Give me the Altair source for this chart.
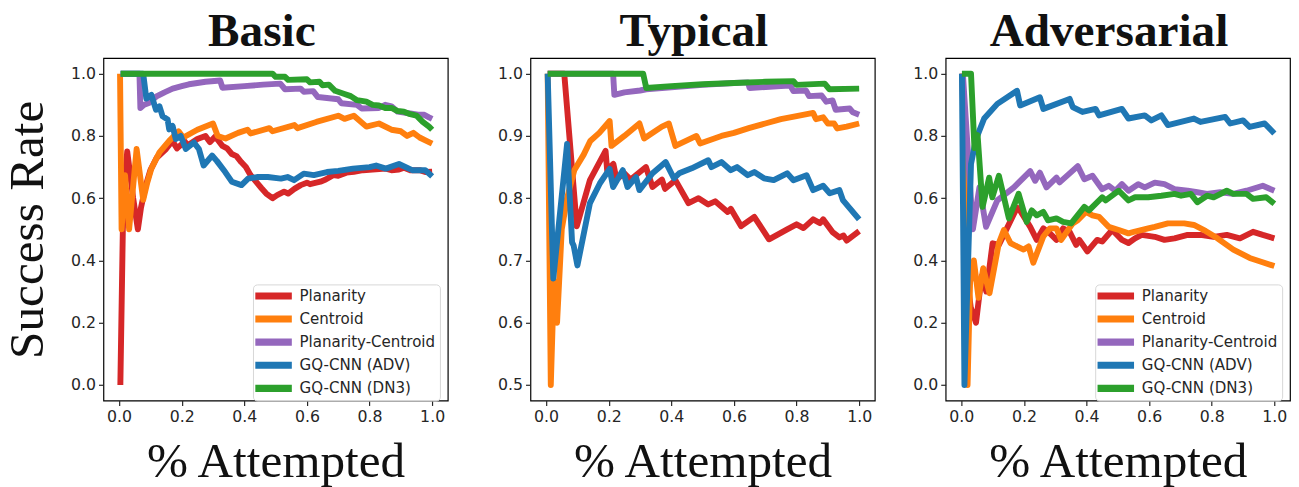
import altair as alt
import pandas as pd

names = ["Planarity", "Centroid", "Planarity-Centroid", "GQ-CNN (ADV)", "GQ-CNN (DN3)"]
colors = ["#d62728", "#ff7f0e", "#9467bd", "#1f77b4", "#2ca02c"]
panels = ["Basic", "Typical", "Adversarial"]
x_ticks = [0.0, 0.2, 0.4, 0.6, 0.8, 1.0]
y_ticks_basic = [0.0, 0.2, 0.4, 0.6, 0.8, 1.0]
y_ticks_typical = [0.5, 0.6, 0.7, 0.8, 0.9, 1.0]
y_ticks_adv = [0.0, 0.2, 0.4, 0.6, 0.8, 1.0]

# ---------------- Basic ----------------
basic_planarity_x = [0.004, 0.012, 0.019, 0.026, 0.045, 0.06, 0.07, 0.085, 0.1, 0.12, 0.15, 0.17, 0.185, 0.21, 0.22, 0.25, 0.276, 0.29, 0.307, 0.33, 0.345, 0.36, 0.375, 0.39, 0.405, 0.42, 0.44, 0.455, 0.47, 0.49, 0.505, 0.527, 0.54, 0.56, 0.58, 0.6, 0.61, 0.643, 0.66, 0.684, 0.7, 0.726, 0.75, 0.779, 0.81, 0.852, 0.87, 0.894, 0.91, 0.93, 0.96, 0.98, 1.0]
basic_planarity_y = [0.0, 0.5, 0.67, 0.75, 0.6, 0.5, 0.57, 0.64, 0.69, 0.73, 0.758, 0.784, 0.76, 0.782, 0.77, 0.79, 0.8, 0.78, 0.798, 0.768, 0.76, 0.742, 0.735, 0.716, 0.7, 0.674, 0.65, 0.632, 0.615, 0.6, 0.61, 0.621, 0.615, 0.63, 0.642, 0.65, 0.645, 0.653, 0.66, 0.674, 0.672, 0.682, 0.685, 0.69, 0.692, 0.695, 0.69, 0.692, 0.698, 0.69, 0.69, 0.684, 0.685]

basic_centroid_x = [0.003, 0.008, 0.019, 0.032, 0.056, 0.077, 0.09, 0.103, 0.129, 0.16, 0.19, 0.205, 0.25, 0.3, 0.315, 0.34, 0.38, 0.41, 0.42, 0.48, 0.49, 0.56, 0.57, 0.63, 0.7, 0.72, 0.75, 0.79, 0.83, 0.87, 0.9, 0.92, 0.94, 0.96, 0.98, 1.0]
basic_centroid_y = [1.0, 0.5, 0.674, 0.5, 0.758, 0.595, 0.65, 0.695, 0.747, 0.784, 0.815, 0.795, 0.82, 0.84, 0.8, 0.792, 0.81, 0.82, 0.808, 0.825, 0.815, 0.835, 0.825, 0.845, 0.865, 0.855, 0.865, 0.83, 0.84, 0.82, 0.815, 0.8, 0.81, 0.795, 0.785, 0.775]

basic_plancent_x = [0.005, 0.065, 0.068, 0.08, 0.097, 0.118, 0.145, 0.171, 0.2, 0.223, 0.25, 0.276, 0.323, 0.33, 0.4, 0.46, 0.515, 0.53, 0.58, 0.59, 0.62, 0.635, 0.7, 0.71, 0.76, 0.775, 0.83, 0.85, 0.87, 0.89, 0.93, 0.955, 0.975, 0.99, 1.0]
basic_plancent_y = [1.0, 1.0, 0.89, 0.9, 0.907, 0.926, 0.94, 0.952, 0.96, 0.966, 0.97, 0.974, 0.978, 0.955, 0.96, 0.965, 0.968, 0.95, 0.952, 0.942, 0.944, 0.925, 0.918, 0.905, 0.9, 0.888, 0.89, 0.9, 0.895, 0.878, 0.872, 0.868, 0.868, 0.86, 0.855]

basic_adv_x = [0.005, 0.077, 0.087, 0.103, 0.118, 0.129, 0.139, 0.155, 0.16, 0.171, 0.181, 0.197, 0.213, 0.239, 0.255, 0.27, 0.297, 0.312, 0.339, 0.36, 0.391, 0.412, 0.443, 0.475, 0.517, 0.538, 0.559, 0.59, 0.622, 0.664, 0.7, 0.747, 0.8, 0.821, 0.852, 0.894, 0.936, 0.978, 1.0]
basic_adv_y = [1.0, 1.0, 0.92, 0.932, 0.884, 0.895, 0.863, 0.853, 0.821, 0.832, 0.79, 0.8, 0.758, 0.779, 0.758, 0.705, 0.737, 0.72, 0.684, 0.653, 0.642, 0.663, 0.668, 0.668, 0.663, 0.668, 0.658, 0.679, 0.674, 0.684, 0.688, 0.695, 0.7, 0.705, 0.695, 0.71, 0.69, 0.69, 0.67]

basic_dn3_x = [0.005, 0.49, 0.5, 0.53, 0.54, 0.6, 0.61, 0.64, 0.65, 0.67, 0.69, 0.72, 0.74, 0.76, 0.79, 0.81, 0.83, 0.85, 0.87, 0.89, 0.91, 0.93, 0.95, 0.97, 0.99, 1.0]
basic_dn3_y = [1.0, 1.0, 0.99, 0.99, 0.98, 0.982, 0.972, 0.974, 0.963, 0.965, 0.945, 0.935, 0.928, 0.915, 0.91, 0.9, 0.898, 0.89, 0.89, 0.88, 0.878, 0.87, 0.865, 0.845, 0.83, 0.82]

# ---------------- Typical ----------------
typical_planarity_x = [0.005, 0.058, 0.098, 0.14, 0.19, 0.195, 0.215, 0.225, 0.25, 0.27, 0.319, 0.34, 0.37, 0.38, 0.413, 0.455, 0.487, 0.518, 0.54, 0.58, 0.59, 0.623, 0.665, 0.712, 0.77, 0.8, 0.822, 0.853, 0.875, 0.885, 0.916, 0.937, 0.95, 0.96, 1.0]
typical_planarity_y = [1.0, 1.0, 0.755, 0.829, 0.876, 0.845, 0.855, 0.83, 0.84, 0.83, 0.85, 0.818, 0.83, 0.815, 0.829, 0.792, 0.8, 0.79, 0.795, 0.778, 0.783, 0.755, 0.77, 0.734, 0.75, 0.758, 0.752, 0.766, 0.76, 0.766, 0.745, 0.737, 0.74, 0.732, 0.747]

typical_centroid_x = [0.005, 0.015, 0.025, 0.035, 0.05, 0.067, 0.09, 0.12, 0.141, 0.17, 0.203, 0.209, 0.25, 0.298, 0.313, 0.37, 0.392, 0.413, 0.48, 0.492, 0.56, 0.6, 0.65, 0.7, 0.75, 0.8, 0.853, 0.862, 0.885, 0.9, 0.92, 0.93, 0.96, 1.0]
typical_centroid_y = [1.0, 0.5, 0.667, 0.6, 0.75, 0.8, 0.845, 0.87, 0.892, 0.905, 0.924, 0.884, 0.9, 0.92, 0.896, 0.915, 0.92, 0.884, 0.9, 0.888, 0.9, 0.905, 0.913, 0.92, 0.927, 0.932, 0.937, 0.927, 0.93, 0.92, 0.92, 0.912, 0.915, 0.92]

typical_plancent_x = [0.005, 0.214, 0.218, 0.25, 0.3, 0.32, 0.4, 0.5, 0.6, 0.645, 0.65, 0.75, 0.78, 0.79, 0.83, 0.84, 0.88, 0.895, 0.915, 0.925, 0.97, 0.98, 1.0]
typical_plancent_y = [1.0, 1.0, 0.966, 0.97, 0.973, 0.975, 0.978, 0.982, 0.985, 0.986, 0.977, 0.98, 0.981, 0.972, 0.973, 0.964, 0.965, 0.955, 0.957, 0.942, 0.944, 0.938, 0.934]

typical_adv_x = [0.005, 0.023, 0.067, 0.083, 0.088, 0.1, 0.14, 0.172, 0.203, 0.214, 0.245, 0.26, 0.287, 0.298, 0.34, 0.382, 0.408, 0.425, 0.465, 0.518, 0.528, 0.56, 0.59, 0.61, 0.644, 0.665, 0.696, 0.727, 0.77, 0.79, 0.832, 0.853, 0.885, 0.906, 0.937, 0.948, 1.0]
typical_adv_y = [1.0, 0.671, 0.887, 0.729, 0.724, 0.692, 0.792, 0.824, 0.847, 0.818, 0.845, 0.818, 0.834, 0.813, 0.84, 0.858, 0.832, 0.84, 0.848, 0.861, 0.85, 0.858, 0.845, 0.85, 0.837, 0.842, 0.832, 0.829, 0.84, 0.829, 0.837, 0.813, 0.82, 0.808, 0.813, 0.797, 0.766]

typical_dn3_x = [0.005, 0.31, 0.32, 0.4, 0.5, 0.6, 0.7, 0.79, 0.8, 0.89, 0.905, 1.0]
typical_dn3_y = [1.0, 1.0, 0.977, 0.98, 0.983, 0.985, 0.987, 0.988, 0.982, 0.984, 0.975, 0.976]

# ---------------- Adversarial ----------------
adv_planarity_x = [0.003, 0.02, 0.03, 0.047, 0.065, 0.08, 0.1, 0.12, 0.178, 0.188, 0.22, 0.241, 0.262, 0.283, 0.304, 0.325, 0.346, 0.367, 0.377, 0.403, 0.434, 0.45, 0.482, 0.513, 0.534, 0.555, 0.576, 0.618, 0.649, 0.681, 0.723, 0.764, 0.806, 0.848, 0.89, 0.932, 0.963, 1.0]
adv_planarity_y = [1.0, 0.33, 0.25, 0.2, 0.35, 0.3, 0.455, 0.45, 0.57, 0.56, 0.508, 0.466, 0.503, 0.487, 0.466, 0.503, 0.492, 0.45, 0.466, 0.429, 0.466, 0.461, 0.498, 0.466, 0.456, 0.471, 0.482, 0.476, 0.466, 0.471, 0.482, 0.482, 0.476, 0.482, 0.471, 0.492, 0.482, 0.471]

adv_centroid_x = [0.005, 0.02, 0.028, 0.04, 0.055, 0.07, 0.09, 0.12, 0.136, 0.157, 0.178, 0.199, 0.215, 0.23, 0.262, 0.283, 0.304, 0.319, 0.356, 0.372, 0.398, 0.419, 0.44, 0.471, 0.503, 0.534, 0.555, 0.597, 0.618, 0.66, 0.712, 0.743, 0.78, 0.817, 0.869, 0.921, 0.96, 1.0]
adv_centroid_y = [1.0, 0.0, 0.33, 0.4, 0.28, 0.375, 0.295, 0.456, 0.498, 0.456, 0.445, 0.435, 0.445, 0.393, 0.477, 0.503, 0.503, 0.466, 0.519, 0.529, 0.556, 0.545, 0.54, 0.508, 0.498, 0.487, 0.493, 0.503, 0.508, 0.519, 0.519, 0.514, 0.495, 0.472, 0.435, 0.408, 0.395, 0.382]

adv_plancent_x = [0.005, 0.037, 0.058, 0.079, 0.115, 0.168, 0.22, 0.236, 0.251, 0.272, 0.304, 0.314, 0.372, 0.393, 0.419, 0.45, 0.471, 0.492, 0.513, 0.534, 0.565, 0.586, 0.618, 0.649, 0.681, 0.723, 0.754, 0.785, 0.827, 0.869, 0.911, 0.963, 1.0]
adv_plancent_y = [1.0, 0.5, 0.635, 0.508, 0.593, 0.635, 0.687, 0.656, 0.682, 0.635, 0.666, 0.651, 0.703, 0.661, 0.672, 0.629, 0.64, 0.624, 0.645, 0.624, 0.645, 0.635, 0.65, 0.645, 0.629, 0.624, 0.619, 0.614, 0.619, 0.614, 0.624, 0.64, 0.624]

adv_adv_x = [0.002, 0.01, 0.031, 0.047, 0.073, 0.115, 0.178, 0.188, 0.251, 0.262, 0.346, 0.356, 0.387, 0.429, 0.44, 0.513, 0.534, 0.586, 0.607, 0.639, 0.66, 0.743, 0.764, 0.843, 0.859, 0.9, 0.921, 0.969, 1.0]
adv_adv_y = [1.0, 0.0, 0.71, 0.79, 0.856, 0.903, 0.945, 0.898, 0.924, 0.887, 0.919, 0.893, 0.877, 0.887, 0.866, 0.887, 0.856, 0.866, 0.85, 0.866, 0.835, 0.856, 0.845, 0.861, 0.84, 0.85, 0.829, 0.84, 0.808]

adv_dn3_x = [0.002, 0.031, 0.042, 0.052, 0.068, 0.089, 0.099, 0.12, 0.152, 0.183, 0.209, 0.225, 0.241, 0.262, 0.277, 0.304, 0.325, 0.351, 0.393, 0.408, 0.45, 0.461, 0.503, 0.534, 0.555, 0.597, 0.639, 0.681, 0.702, 0.733, 0.754, 0.785, 0.806, 0.848, 0.869, 0.911, 0.932, 0.974, 1.0]
adv_dn3_y = [1.0, 1.0, 0.761, 0.803, 0.572, 0.666, 0.603, 0.672, 0.535, 0.614, 0.524, 0.561, 0.545, 0.556, 0.529, 0.535, 0.524, 0.519, 0.572, 0.561, 0.603, 0.593, 0.624, 0.593, 0.603, 0.603, 0.608, 0.614, 0.608, 0.614, 0.587, 0.608, 0.603, 0.624, 0.614, 0.614, 0.598, 0.603, 0.582]

series_data = {
    "Basic": [(basic_planarity_x, basic_planarity_y), (basic_centroid_x, basic_centroid_y),
              (basic_plancent_x, basic_plancent_y), (basic_adv_x, basic_adv_y), (basic_dn3_x, basic_dn3_y)],
    "Typical": [(typical_planarity_x, typical_planarity_y), (typical_centroid_x, typical_centroid_y),
                (typical_plancent_x, typical_plancent_y), (typical_adv_x, typical_adv_y), (typical_dn3_x, typical_dn3_y)],
    "Adversarial": [(adv_planarity_x, adv_planarity_y), (adv_centroid_x, adv_centroid_y),
                    (adv_plancent_x, adv_plancent_y), (adv_adv_x, adv_adv_y), (adv_dn3_x, adv_dn3_y)],
}

rows = []
for p in panels:
    for name, (xs, ys) in zip(names, series_data[p]):
        for xv, yv in zip(xs, ys):
            rows.append({"panel": p, "series": name, "x": xv, "y": yv})
df = pd.DataFrame(rows)

SERIF = "Liberation Serif"
SANS = "DejaVu Sans"
LEGEND_SYMBOL = "M-2,-0.5L6,-0.5M-2,0L6,0M-2,0.5L6,0.5"


def make_panel(pname, ydomain, yticks, first, title_x):
    legend = alt.Legend(
        orient="none", legendX=152, legendY=230, title=None,
        labelFont=SANS, labelFontSize=15.3, labelColor="#262626",
        symbolType=LEGEND_SYMBOL, symbolStrokeWidth=2.5, symbolSize=86,
        labelOffset=28, padding=4, rowPadding=7.5,
        fillColor="rgba(255,255,255,0.8)", strokeColor="#d6d6d6", cornerRadius=4,
    )
    yaxis_kwargs = dict(values=yticks, format=".1f")
    if first:
        yaxis_kwargs.update(title="Success Rate", titleFont=SERIF, titleFontSize=50,
                            titleFontWeight="normal", titleColor="#111111", titlePadding=18)
    else:
        yaxis_kwargs.update(title=None)
    base = alt.Chart(df[df.panel == pname])
    layers = []
    for s in names:
        layers.append(
            base.transform_filter(alt.datum.series == s)
            .mark_line(strokeWidth=6, strokeJoin="round")
            .encode(
                x=alt.X("x:Q", scale=alt.Scale(domain=[-0.05, 1.05], nice=False, zero=False),
                        axis=alt.Axis(values=x_ticks, format=".1f", title="% Attempted",
                                      titleFont=SERIF, titleFontSize=50, titleFontWeight="normal",
                                      titleColor="#111111", titlePadding=13)),
                y=alt.Y("y:Q", scale=alt.Scale(domain=ydomain, nice=False, zero=False),
                        axis=alt.Axis(**yaxis_kwargs)),
                color=alt.Color("series:N", scale=alt.Scale(domain=names, range=colors), legend=legend),
            )
        )
    title_layer = alt.Chart(pd.DataFrame({"title": [pname]})).mark_text(
        font=SERIF, fontSize=48, fontWeight="bold", color="#111111",
        align="center", baseline="alphabetic",
    ).encode(text="title:N", x=alt.value(title_x), y=alt.value(-12))
    layers.append(title_layer)
    return alt.layer(*layers).properties(width=350, height=348)


p1 = make_panel("Basic", [-0.05, 1.05], y_ticks_basic, True, 161)
p2 = make_panel("Typical", [0.475, 1.025], y_ticks_typical, False, 166)
p3 = make_panel("Adversarial", [-0.05, 1.05], y_ticks_adv, False, 166)

chart = alt.hconcat(alt.hconcat(p1, p2, spacing=48), p3, spacing=36).resolve_scale(
    color="independent"
).properties(
    padding={"top": -4, "left": -6, "right": 0, "bottom": 0}, background="white"
).configure_view(
    stroke="black", strokeWidth=1.2
).configure_axis(
    labelFont=SANS, labelFontSize=16, labelColor="#262626", tickColor="#262626",
    tickSize=5, tickWidth=1.2, domain=False, grid=False, labelPadding=3
)

chart.save("out.html", embed_options={"renderer": "svg", "actions": False})
